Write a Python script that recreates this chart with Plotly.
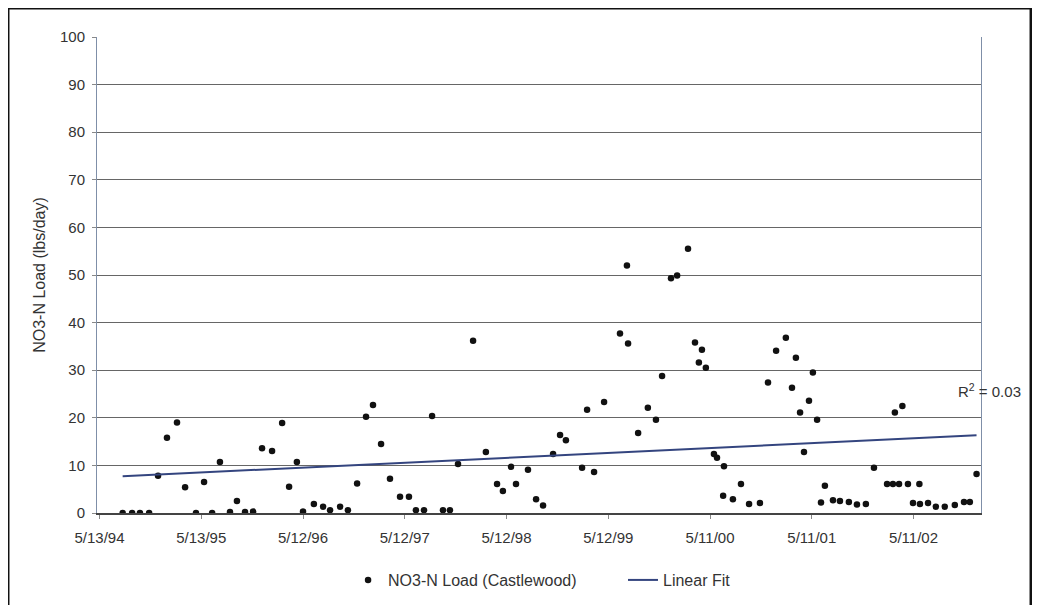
import numpy as np
import pandas as pd
import plotly.graph_objects as go

# ---- data ----
sample_dates = [
    "1994-08-04", "1994-09-07", "1994-10-05", "1994-11-07", "1994-12-09",
    "1995-01-10", "1995-02-15", "1995-03-16", "1995-04-24", "1995-05-23",
    "1995-06-21", "1995-07-19", "1995-08-24", "1995-09-18", "1995-10-17",
    "1995-11-15", "1995-12-17", "1996-01-22", "1996-02-27", "1996-03-23",
    "1996-04-20", "1996-05-12", "1996-06-20", "1996-07-23", "1996-08-17",
    "1996-09-22", "1996-10-20", "1996-11-22", "1996-12-24", "1997-01-18",
    "1997-02-16", "1997-03-20", "1997-04-25", "1997-05-27", "1997-06-21",
    "1997-07-20", "1997-08-18", "1997-09-26", "1997-10-21", "1997-11-19",
    "1998-01-12", "1998-02-27", "1998-04-08", "1998-04-29", "1998-05-28",
    "1998-06-15", "1998-07-28", "1998-08-26", "1998-09-20", "1998-10-26",
    "1998-11-20", "1998-12-11", "1999-02-07", "1999-02-25", "1999-03-22",
    "1999-04-27", "1999-06-23", "1999-07-18", "1999-07-22", "1999-08-27",
    "1999-10-01", "1999-10-30", "1999-11-21", "1999-12-23", "2000-01-14",
    "2000-02-22", "2000-03-18", "2000-04-01", "2000-04-12", "2000-04-26",
    "2000-05-25", "2000-06-05", "2000-06-27", "2000-06-30", "2000-08-01",
    "2000-08-30", "2000-09-28", "2000-11-06", "2000-12-05", "2001-01-03",
    "2001-02-07", "2001-03-01", "2001-03-15", "2001-03-30", "2001-04-13",
    "2001-05-01", "2001-05-15", "2001-05-30", "2001-06-13", "2001-06-27",
    "2001-07-26", "2001-08-20", "2001-09-21", "2001-10-20", "2001-11-21",
    "2001-12-20", "2002-02-05", "2002-02-26", "2002-03-05", "2002-03-20",
    "2002-04-01", "2002-04-21", "2002-05-09", "2002-06-01", "2002-06-03",
    "2002-07-02", "2002-07-30", "2002-08-31", "2002-10-06", "2002-11-08",
    "2002-11-29", "2002-12-23",
]
no3_load = [
    0.0, 0.0, 0.0, 0.0, 7.8,
    15.8, 19.0, 5.4, 0.0, 6.5,
    0.0, 10.7, 0.2, 2.5, 0.2,
    0.3, 13.6, 13.0, 18.9, 5.5,
    10.7, 0.3, 1.9, 1.3, 0.6,
    1.3, 0.6, 6.2, 20.2, 22.7,
    14.5, 7.2, 3.4, 3.4, 0.6,
    0.6, 20.4, 0.6, 0.6, 10.3,
    36.2, 12.8, 6.1, 4.6, 9.7,
    6.1, 9.1, 2.9, 1.6, 12.4,
    16.4, 15.3, 9.5, 21.7, 8.6,
    23.3, 37.7, 52.0, 35.6, 16.8,
    22.1, 19.6, 28.8, 49.3, 49.9,
    55.5, 35.8, 31.6, 34.3, 30.5,
    12.4, 11.6, 3.6, 9.8, 2.9,
    6.1, 1.9, 2.1, 27.4, 34.1,
    36.8, 26.3, 32.6, 21.1, 12.8,
    23.6, 29.5, 19.6, 2.2, 5.7,
    2.7, 2.5, 2.3, 1.8, 1.9,
    9.5, 6.1, 6.1, 21.1, 6.1,
    22.5, 6.1, 2.1, 6.1, 1.9,
    2.1, 1.3, 1.3, 1.7, 2.3,
    2.3, 8.2,
]
tick_dates = ["1994-05-13", "1995-05-13", "1996-05-12", "1997-05-12", "1998-05-12",
              "1999-05-12", "2000-05-11", "2001-05-11", "2002-05-11"]
tick_labels = ["5/13/94", "5/13/95", "5/12/96", "5/12/97", "5/12/98",
               "5/12/99", "5/11/00", "5/11/01", "5/11/02"]
y_ticks = list(range(0, 101, 10))
r2_text = "R<sup>2</sup> = 0.03"
series_name = "NO3-N Load (Castlewood)"
fit_name = "Linear Fit"

# ---- linear fit computed from the data ----
dts = pd.to_datetime(sample_dates)
days = (dts - dts[0]).days.to_numpy(dtype=float)
slope, intercept = np.polyfit(days, np.array(no3_load), 1)
fit_x = [dts[0], dts[-1]]
fit_y = [intercept, intercept + slope * days[-1]]

FONT = "Liberation Sans, Arial, sans-serif"
TXT = "#333333"

fig = go.Figure()
fig.add_trace(go.Scatter(
    x=sample_dates, y=no3_load, mode="markers", name=series_name,
    marker=dict(color="#111111", size=6.5, symbol="circle"),
    legend="legend",
))
fig.add_trace(go.Scatter(
    x=fit_x, y=fit_y, mode="lines", name=fit_name,
    line=dict(color="#34457f", width=2),
    legend="legend2",
))

legend_common = dict(orientation="h", y=-0.1408, yanchor="middle", xanchor="left",
                     font=dict(size=16, color=TXT), bgcolor="rgba(0,0,0,0)",
                     itemwidth=30)

fig.update_layout(
    width=1040, height=605,
    # page body adds an 8px offset; margins compensate so the plot area
    # lands at x 97..981, y 37..513 on the page
    margin=dict(l=89, r=67, t=29, b=100),
    paper_bgcolor="white", plot_bgcolor="white",
    font=dict(family=FONT, size=15, color=TXT),
    showlegend=True,
    legend=dict(x=0.284, **legend_common),
    legend2=dict(x=0.595, **legend_common),
    xaxis=dict(
        type="date", range=["1994-05-04", "2003-01-08"],
        tickmode="array", tickvals=tick_dates, ticktext=tick_labels,
        showgrid=False, zeroline=False,
        showline=True, linecolor="#444444", linewidth=1.5, mirror=False,
        ticks="outside", ticklen=4, tickcolor="#888888",
        tickfont=dict(size=15, color=TXT), ticklabelstandoff=6,
    ),
    yaxis=dict(
        range=[0, 100], tickmode="array", tickvals=y_ticks,
        showgrid=True, gridcolor="#666666", gridwidth=1,
        zeroline=False,
        showline=True, linecolor="#7f8fa8", linewidth=1, mirror=True,
        ticks="outside", ticklen=4, tickcolor="#888888",
        tickfont=dict(size=15, color=TXT), ticklabelstandoff=4,
        title=dict(text="NO3-N Load (lbs/day)", font=dict(size=16, color=TXT), standoff=10),
    ),
    annotations=[dict(
        text=r2_text, xref="paper", yref="paper", x=0.972, y=0.258,
        xanchor="left", yanchor="middle", showarrow=False,
        font=dict(size=15, color=TXT),
    )],
    shapes=[dict(
        type="rect", xref="paper", yref="paper",
        x0=-0.1007, x1=1.0566, y0=-0.35, y1=1.061,
        line=dict(color="#111111", width=3), fillcolor="rgba(0,0,0,0)", layer="above",
    )],
)

fig.write_html("out.html")
